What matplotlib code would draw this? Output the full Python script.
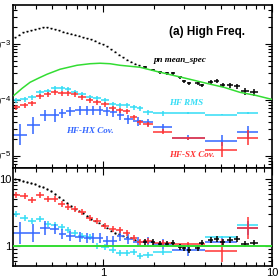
import numpy as np
import matplotlib.pyplot as plt
from matplotlib import ticker

plt.rcParams['font.family'] = ['Liberation Sans', 'DejaVu Sans']
plt.rcParams['mathtext.fontset'] = 'custom'
plt.rcParams['mathtext.rm'] = 'Liberation Sans'
plt.rcParams['mathtext.it'] = 'Liberation Sans:italic'
plt.rcParams['mathtext.bf'] = 'Liberation Sans:bold'

# ---- pn mean spectrum, fine binning (keV, counts) ----
mean_x = [0.301, 0.318, 0.336, 0.355, 0.375, 0.396, 0.418, 0.441, 0.466, 0.492,
          0.520, 0.549, 0.580, 0.612, 0.647, 0.683, 0.721, 0.762, 0.804, 0.849,
          0.897, 0.947, 1.000, 1.056, 1.115, 1.178, 1.244, 1.313, 1.387, 1.465,
          1.547, 1.634]
mean_y = [1.31e-3, 1.45e-3, 1.61e-3, 1.68e-3, 1.75e-3, 1.80e-3, 1.88e-3, 1.96e-3,
          1.98e-3, 1.90e-3, 1.80e-3, 1.72e-3, 1.62e-3, 1.56e-3, 1.50e-3, 1.45e-3,
          1.38e-3, 1.31e-3, 1.25e-3, 1.19e-3, 1.12e-3, 1.04e-3, 0.98e-3, 0.89e-3,
          0.80e-3, 0.72e-3, 0.64e-3, 0.57e-3, 0.52e-3, 0.48e-3, 0.44e-3, 0.41e-3]
mean_ratio = [10.0, 9.67, 9.34, 9.03, 8.73, 8.43, 7.88, 7.61, 7.11, 6.64, 5.99,
              5.41, 4.89, 4.41, 3.98, 3.59, 3.36, 3.13, 2.83, 2.55, 2.39, 2.23,
              2.08, 1.88, 1.70, 1.58, 1.53, 1.43, 1.38, 1.34, 1.25, 1.21]

# ---- pn mean spectrum, coarse binning above ~1.7 keV ----
hi_x = [1.773, 1.977, 2.175, 2.39, 2.596, 2.855, 3.016, 3.228, 3.65, 3.85,
        4.355, 4.73, 5.13, 5.64, 6.2, 6.92, 7.82]
hi_y = [3.79e-4, 3.35e-4, 3.08e-4, 2.96e-4, 2.96e-4, 2.51e-4, 2.13e-4, 1.96e-4,
        1.96e-4, 1.80e-4, 2.04e-4, 2.13e-4, 1.80e-4, 1.80e-4, 1.73e-4, 1.41e-4,
        1.35e-4]
hi_ratio = [1.17, 1.17, 1.09, 1.09, 1.13, 0.98, 0.95, 0.89, 0.95, 1.13, 1.25,
            1.29, 1.17, 1.25, 1.29, 1.09, 1.13]
hi_xerr_dex = [0.013, 0.013, 0.013, 0.013, 0.013, 0.013, 0.013, 0.013, 0.015,
               0.015, 0.015, 0.015, 0.015, 0.018, 0.018, 0.024, 0.024]
hi_yerr_dex = [0.02, 0.02, 0.025, 0.025, 0.025, 0.03, 0.03, 0.03, 0.03, 0.03,
               0.035, 0.035, 0.035, 0.04, 0.04, 0.06, 0.06]

# ---- model (green) ----
model_x = [0.297, 0.332, 0.370, 0.413, 0.466, 0.557, 0.702, 0.838, 0.960, 1.10,
           1.26, 1.655, 2.06, 2.596, 3.27, 4.12, 5.20, 6.47, 8.04, 10.0]
model_y = [1.19e-4, 1.59e-4, 2.04e-4, 2.40e-4, 2.84e-4, 3.49e-4, 4.11e-4, 4.38e-4,
           4.47e-4, 4.38e-4, 4.11e-4, 3.79e-4, 3.21e-4, 2.72e-4, 2.31e-4, 1.95e-4,
           1.66e-4, 1.35e-4, 1.19e-4, 1.01e-4]

# ---- HF RMS (cyan) and HF-SX cov (red) share bins ----
cr_x = [0.305, 0.3455, 0.380, 0.424, 0.4727, 0.520, 0.572, 0.621, 0.683, 0.751,
        0.838, 0.922, 1.028, 1.146, 1.26, 1.387, 1.526, 1.655, 1.846, 2.265,
        3.184, 5.06, 7.21]
cr_lo = [0.292, 0.323, 0.360, 0.401, 0.448, 0.492, 0.542, 0.596, 0.647, 0.711,
         0.793, 0.873, 0.973, 1.085, 1.194, 1.313, 1.444, 1.589, 1.725, 1.977,
         2.56, 4.015, 6.21]
cr_hi = [0.323, 0.360, 0.401, 0.448, 0.492, 0.542, 0.596, 0.647, 0.711, 0.793,
         0.873, 0.973, 1.085, 1.194, 1.313, 1.444, 1.589, 1.725, 1.977, 2.56,
         4.015, 6.21, 8.26]

rms_y = [9.7e-5, 1.01e-4, 1.10e-4, 1.35e-4, 1.41e-4, 1.59e-4, 1.59e-4, 1.53e-4,
         1.35e-4, 1.24e-4, 1.10e-4, 1.05e-4, 9.7e-5, 8.2e-5, 7.9e-5, 7.9e-5,
         7.3e-5, 7.0e-5, 5.9e-5, 5.7e-5, 5.7e-5, 5.4e-5, 5.7e-5]
rms_yerr_dex = [0.04] * 20 + [0.015, 0.015, 0.015]
rms_ratio = [3.03, 2.64, 2.39, 2.55, 2.15, 2.08, 1.94, 1.76, 1.58, 1.43, 1.38,
             1.02, 0.98, 0.89, 0.80, 0.80, 0.83, 0.72, 0.75, 0.83, 1.02, 1.38, 2.08]
rms_rerr_dex = [0.045] * 20 + [0.02, 0.02, 0.02]

sx_y = [7.26e-5, 7.89e-5, 8.57e-5, 1.14e-4, 1.24e-4, 1.35e-4, 1.29e-4, 1.29e-4,
        1.24e-4, 1.10e-4, 9.7e-5, 8.93e-5, 8.2e-5, 6.96e-5, 6.41e-5, 6.15e-5,
        4.81e-5, 3.91e-5, 3.6e-5, 2.69e-5, 2.02e-5, 1.28e-5, 2.1e-5]
sx_yerr_dex = [0.045] * 17 + [0.05, 0.05, 0.05, 0.03, 0.14, 0.13]
sx_ratio = [5.79, 5.6, 4.89, 5.79, 5.06, 5.06, 4.26, 3.85, 3.59, 3.25, 2.64,
            2.39, 2.01, 1.82, 1.76, 1.58, 1.34, 1.17, 1.21, 1.13, 1.09, 0.86, 1.88]
sx_rerr_dex = [0.045] * 20 + [0.03, 0.17, 0.16]

# ---- HF-HX cov (blue) ----
hx_x = [0.323, 0.385, 0.454, 0.520, 0.572, 0.638, 0.731, 0.804, 0.873, 0.960,
        1.056, 1.146, 1.26, 1.406, 1.611, 1.846, 2.265, 3.184, 5.06, 7.21]
hx_lo = [0.295, 0.355, 0.424, 0.486, 0.549, 0.604, 0.683, 0.772, 0.838, 0.909,
         1.0, 1.10, 1.21, 1.331, 1.505, 1.725, 1.977, 2.56, 4.015, 6.21]
hx_hi = [0.355, 0.424, 0.486, 0.549, 0.604, 0.683, 0.772, 0.838, 0.909, 1.0,
         1.10, 1.21, 1.331, 1.505, 1.725, 1.977, 2.56, 4.015, 6.21, 8.26]
hx_y = [2.38e-5, 3.45e-5, 5.21e-5, 5.21e-5, 5.66e-5, 6.15e-5, 6.41e-5, 6.41e-5,
        6.41e-5, 6.41e-5, 6.15e-5, 5.9e-5, 5.21e-5, 4.43e-5, 4.07e-5, 3.91e-5,
        3.18e-5, 2.1e-5, 1.86e-5, 2.59e-5]
hx_yerr_dex = [0.18, 0.15, 0.10, 0.12, 0.08, 0.08, 0.08, 0.08, 0.08, 0.08, 0.08,
               0.08, 0.08, 0.08, 0.08, 0.07, 0.07, 0.04, 0.10, 0.12]
hx_ratio = [1.58, 1.58, 1.88, 1.82, 1.53, 1.43, 1.38, 1.34, 1.34, 1.34, 1.21,
            1.21, 1.43, 1.29, 1.17, 1.17, 1.09, 0.89, 1.17, 1.88]
hx_rerr_dex = [0.16, 0.13, 0.10, 0.075, 0.075, 0.075, 0.075, 0.075, 0.075, 0.075,
               0.075, 0.075, 0.075, 0.075, 0.075, 0.075, 0.075, 0.10, 0.06, 0.10]

BLACK = 'black'
GREEN = '#33dd33'
CYAN = '#33ddf5'
RED = '#ff3333'
BLUE = '#3366ff'


def dex_err(v, d):
    v = np.asarray(v)
    d = np.asarray(d)
    return [v * (1 - 10 ** -d), v * (10 ** d - 1)]


def edge_err(x, lo, hi):
    x = np.asarray(x)
    return [x - np.asarray(lo), np.asarray(hi) - x]


def fine_xerr(x):
    # short horizontal dashes so the fine spectrum reads as a dotted curve
    x = np.asarray(x)
    step = (x[1:] / x[:-1]) ** 0.22
    lo = np.concatenate([[step[0]], step])
    hi = np.concatenate([step, [step[-1]]])
    return [x - x / lo, x * hi - x]


fig = plt.figure(figsize=(2.8, 2.8), dpi=100)
ax1 = fig.add_axes([0.048, 0.40, 0.923, 0.582])
ax2 = fig.add_axes([0.048, 0.05, 0.923, 0.35])

ekw = dict(fmt='none', capsize=0, elinewidth=1.1)
fkw = dict(fmt='none', capsize=0, elinewidth=1.0)

# top panel
ax1.errorbar(mean_x, mean_y, xerr=fine_xerr(mean_x), yerr=dex_err(mean_y, 0.008),
             ecolor=BLACK, **fkw)
ax1.errorbar(hi_x, hi_y, xerr=dex_err(hi_x, hi_xerr_dex),
             yerr=dex_err(hi_y, hi_yerr_dex), ecolor=BLACK, **ekw)
ax1.errorbar(cr_x, rms_y, xerr=edge_err(cr_x, cr_lo, cr_hi),
             yerr=dex_err(rms_y, rms_yerr_dex), ecolor=CYAN, **ekw)
ax1.errorbar(hx_x, hx_y, xerr=edge_err(hx_x, hx_lo, hx_hi),
             yerr=dex_err(hx_y, hx_yerr_dex), ecolor=BLUE, **ekw)
ax1.errorbar(cr_x, sx_y, xerr=edge_err(cr_x, cr_lo, cr_hi),
             yerr=dex_err(sx_y, sx_yerr_dex), ecolor=RED, **ekw)
ax1.plot(model_x, model_y, color=GREEN, lw=1.1, zorder=5)

# bottom panel
ax2.errorbar(mean_x, mean_ratio, xerr=fine_xerr(mean_x),
             yerr=dex_err(mean_ratio, 0.01), ecolor=BLACK, **fkw)
ax2.errorbar(cr_x, rms_ratio, xerr=edge_err(cr_x, cr_lo, cr_hi),
             yerr=dex_err(rms_ratio, rms_rerr_dex), ecolor=CYAN, **ekw)
ax2.errorbar(hx_x, hx_ratio, xerr=edge_err(hx_x, hx_lo, hx_hi),
             yerr=dex_err(hx_ratio, hx_rerr_dex), ecolor=BLUE, **ekw)
ax2.errorbar(cr_x, sx_ratio, xerr=edge_err(cr_x, cr_lo, cr_hi),
             yerr=dex_err(sx_ratio, sx_rerr_dex), ecolor=RED, **ekw)
ax2.errorbar(hi_x, hi_ratio, xerr=dex_err(hi_x, hi_xerr_dex),
             yerr=dex_err(hi_ratio, 0.045), ecolor=BLACK, **ekw)
ax2.axhline(1.0, color=GREEN, lw=1.4, zorder=5)

for ax in (ax1, ax2):
    ax.set_xscale('log')
    ax.set_yscale('log')
    ax.set_xlim(0.295, 10.0)
    ax.tick_params(which='both', direction='in', top=True, right=True,
                   labelsize=8, width=0.8, pad=1.5)
    ax.tick_params(which='major', length=5)
    ax.tick_params(which='minor', length=3)
    for s in ax.spines.values():
        s.set_linewidth(1.2)
    ax.xaxis.set_minor_formatter(ticker.NullFormatter())
    ax.yaxis.set_minor_formatter(ticker.NullFormatter())

ax1.set_ylim(6e-6, 4.9e-3)
ax1.xaxis.set_major_formatter(ticker.NullFormatter())
ax1.yaxis.set_major_locator(ticker.LogLocator(base=10))
ax1.yaxis.set_minor_locator(ticker.LogLocator(base=10, subs=np.arange(2, 10)))

ax2.set_ylim(0.51, 14.5)
plain = ticker.FuncFormatter(lambda v, p: f'{v:g}')
ax2.xaxis.set_major_formatter(plain)
ax2.yaxis.set_major_formatter(plain)
ax2.yaxis.set_minor_locator(ticker.LogLocator(base=10, subs=np.arange(2, 10)))

ax1.text(0.749, 0.834, '(a) High Freq.', transform=ax1.transAxes,
         ha='center', va='center', fontsize=8.5, fontweight='bold')
lab = dict(transform=ax1.transAxes, ha='center', va='center', fontsize=6.5,
           family='Liberation Serif', style='italic', weight='bold')
ax1.text(0.644, 0.663, 'pn mean_spec', color='black', **lab)
ax1.text(0.667, 0.399, 'HF RMS', color=CYAN, **lab)
ax1.text(0.296, 0.227, 'HF-HX Cov.', color=BLUE, **lab)
ax1.text(0.69, 0.08, 'HF-SX Cov.', color=RED, **lab)

fig.savefig('out.png', dpi=100)
